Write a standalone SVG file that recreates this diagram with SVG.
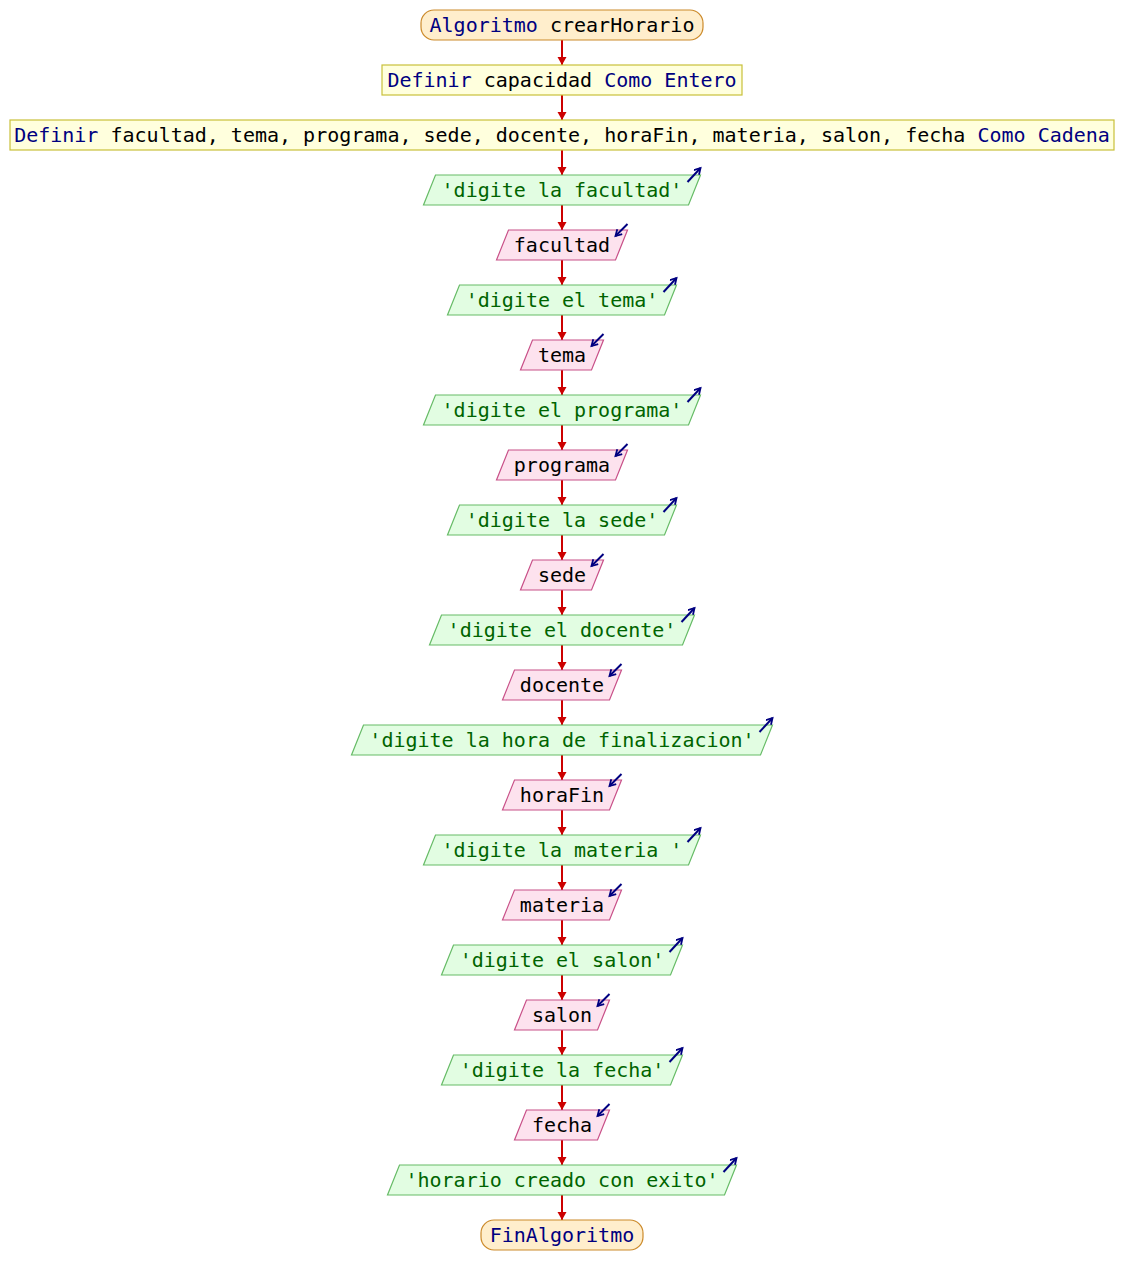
<svg xmlns="http://www.w3.org/2000/svg" width="1124" height="1285" viewBox="0 0 1124 1285">
<style>
text{font-family:"DejaVu Sans Mono","Liberation Mono",monospace;font-size:20px;text-anchor:middle;white-space:pre}
.term{fill:#ffeecc;stroke:#cc8a2a;stroke-width:1.2}
.def{fill:#ffffdd;stroke:#c8c03a;stroke-width:1.2}
.out{fill:#e2fde2;stroke:#66bb66;stroke-width:1.2}
.in{fill:#fde2ee;stroke:#c85088;stroke-width:1.2}
.kw{fill:#000080}
.var{fill:#000000}
.str{fill:#006400}
.conn line{stroke:#cc0000;stroke-width:2;marker-end:url(#ah)}
.icon{stroke:#000080;stroke-width:2;fill:none;marker-end:url(#ih)}
</style>
<defs>
<marker id="ah" markerUnits="userSpaceOnUse" markerWidth="10" markerHeight="10" refX="8" refY="5" orient="auto"><path d="M0,0.5 L8,5 L0,9.5 z" fill="#cc0000"/></marker>
<marker id="ih" markerUnits="userSpaceOnUse" markerWidth="10" markerHeight="10" refX="7" refY="4" orient="auto"><path d="M1,0.5 L7,4 L1,7.5" fill="none" stroke="#000080" stroke-width="1.8"/></marker>
</defs>
<rect width="1124" height="1285" fill="#ffffff"/>
<g class="conn">
<line x1="562" y1="40" x2="562" y2="65"/>
<line x1="562" y1="95" x2="562" y2="120"/>
<line x1="562" y1="150" x2="562" y2="175"/>
<line x1="562" y1="205" x2="562" y2="230"/>
<line x1="562" y1="260" x2="562" y2="285"/>
<line x1="562" y1="315" x2="562" y2="340"/>
<line x1="562" y1="370" x2="562" y2="395"/>
<line x1="562" y1="425" x2="562" y2="450"/>
<line x1="562" y1="480" x2="562" y2="505"/>
<line x1="562" y1="535" x2="562" y2="560"/>
<line x1="562" y1="590" x2="562" y2="615"/>
<line x1="562" y1="645" x2="562" y2="670"/>
<line x1="562" y1="700" x2="562" y2="725"/>
<line x1="562" y1="755" x2="562" y2="780"/>
<line x1="562" y1="810" x2="562" y2="835"/>
<line x1="562" y1="865" x2="562" y2="890"/>
<line x1="562" y1="920" x2="562" y2="945"/>
<line x1="562" y1="975" x2="562" y2="1000"/>
<line x1="562" y1="1030" x2="562" y2="1055"/>
<line x1="562" y1="1085" x2="562" y2="1110"/>
<line x1="562" y1="1140" x2="562" y2="1165"/>
<line x1="562" y1="1195" x2="562" y2="1220"/>
</g>
<g id="n1"><rect class="term" x="421" y="10" width="282" height="30" rx="13"/><text x="562" y="32"><tspan class="kw">Algoritmo</tspan><tspan class="var"> crearHorario</tspan></text></g>
<g id="n2"><rect class="def" x="382" y="65" width="360" height="30"/><text x="562" y="87"><tspan class="kw">Definir</tspan><tspan class="var"> capacidad </tspan><tspan class="kw">Como Entero</tspan></text></g>
<g id="n3"><rect class="def" x="10" y="120" width="1104" height="30"/><text x="562" y="142"><tspan class="kw">Definir</tspan><tspan class="var"> facultad, tema, programa, sede, docente, horaFin, materia, salon, fecha </tspan><tspan class="kw">Como Cadena</tspan></text></g>
<g id="n4"><polygon class="out" points="435.5,175 700.5,175 688.5,205 423.5,205"/><text class="str" x="562" y="197">'digite la facultad'</text><line class="icon" x1="687.5" y1="182" x2="700.5" y2="168"/></g>
<g id="n5"><polygon class="in" points="508.5,230 627.5,230 615.5,260 496.5,260"/><text class="var" x="562" y="252">facultad</text><line class="icon" x1="627.5" y1="224" x2="615.5" y2="236"/></g>
<g id="n6"><polygon class="out" points="459.5,285 676.5,285 664.5,315 447.5,315"/><text class="str" x="562" y="307">'digite el tema'</text><line class="icon" x1="663.5" y1="292" x2="676.5" y2="278"/></g>
<g id="n7"><polygon class="in" points="532.5,340 603.5,340 591.5,370 520.5,370"/><text class="var" x="562" y="362">tema</text><line class="icon" x1="603.5" y1="334" x2="591.5" y2="346"/></g>
<g id="n8"><polygon class="out" points="435.5,395 700.5,395 688.5,425 423.5,425"/><text class="str" x="562" y="417">'digite el programa'</text><line class="icon" x1="687.5" y1="402" x2="700.5" y2="388"/></g>
<g id="n9"><polygon class="in" points="508.5,450 627.5,450 615.5,480 496.5,480"/><text class="var" x="562" y="472">programa</text><line class="icon" x1="627.5" y1="444" x2="615.5" y2="456"/></g>
<g id="n10"><polygon class="out" points="459.5,505 676.5,505 664.5,535 447.5,535"/><text class="str" x="562" y="527">'digite la sede'</text><line class="icon" x1="663.5" y1="512" x2="676.5" y2="498"/></g>
<g id="n11"><polygon class="in" points="532.5,560 603.5,560 591.5,590 520.5,590"/><text class="var" x="562" y="582">sede</text><line class="icon" x1="603.5" y1="554" x2="591.5" y2="566"/></g>
<g id="n12"><polygon class="out" points="441.5,615 694.5,615 682.5,645 429.5,645"/><text class="str" x="562" y="637">'digite el docente'</text><line class="icon" x1="681.5" y1="622" x2="694.5" y2="608"/></g>
<g id="n13"><polygon class="in" points="514.5,670 621.5,670 609.5,700 502.5,700"/><text class="var" x="562" y="692">docente</text><line class="icon" x1="621.5" y1="664" x2="609.5" y2="676"/></g>
<g id="n14"><polygon class="out" points="363.5,725 772.5,725 760.5,755 351.5,755"/><text class="str" x="562" y="747">'digite la hora de finalizacion'</text><line class="icon" x1="759.5" y1="732" x2="772.5" y2="718"/></g>
<g id="n15"><polygon class="in" points="514.5,780 621.5,780 609.5,810 502.5,810"/><text class="var" x="562" y="802">horaFin</text><line class="icon" x1="621.5" y1="774" x2="609.5" y2="786"/></g>
<g id="n16"><polygon class="out" points="435.5,835 700.5,835 688.5,865 423.5,865"/><text class="str" x="562" y="857">'digite la materia '</text><line class="icon" x1="687.5" y1="842" x2="700.5" y2="828"/></g>
<g id="n17"><polygon class="in" points="514.5,890 621.5,890 609.5,920 502.5,920"/><text class="var" x="562" y="912">materia</text><line class="icon" x1="621.5" y1="884" x2="609.5" y2="896"/></g>
<g id="n18"><polygon class="out" points="453.5,945 682.5,945 670.5,975 441.5,975"/><text class="str" x="562" y="967">'digite el salon'</text><line class="icon" x1="669.5" y1="952" x2="682.5" y2="938"/></g>
<g id="n19"><polygon class="in" points="526.5,1000 609.5,1000 597.5,1030 514.5,1030"/><text class="var" x="562" y="1022">salon</text><line class="icon" x1="609.5" y1="994" x2="597.5" y2="1006"/></g>
<g id="n20"><polygon class="out" points="453.5,1055 682.5,1055 670.5,1085 441.5,1085"/><text class="str" x="562" y="1077">'digite la fecha'</text><line class="icon" x1="669.5" y1="1062" x2="682.5" y2="1048"/></g>
<g id="n21"><polygon class="in" points="526.5,1110 609.5,1110 597.5,1140 514.5,1140"/><text class="var" x="562" y="1132">fecha</text><line class="icon" x1="609.5" y1="1104" x2="597.5" y2="1116"/></g>
<g id="n22"><polygon class="out" points="399.5,1165 736.5,1165 724.5,1195 387.5,1195"/><text class="str" x="562" y="1187">'horario creado con exito'</text><line class="icon" x1="723.5" y1="1172" x2="736.5" y2="1158"/></g>
<g id="n23"><rect class="term" x="481" y="1220" width="162" height="30" rx="13"/><text class="kw" x="562" y="1242">FinAlgoritmo</text></g>
</svg>
